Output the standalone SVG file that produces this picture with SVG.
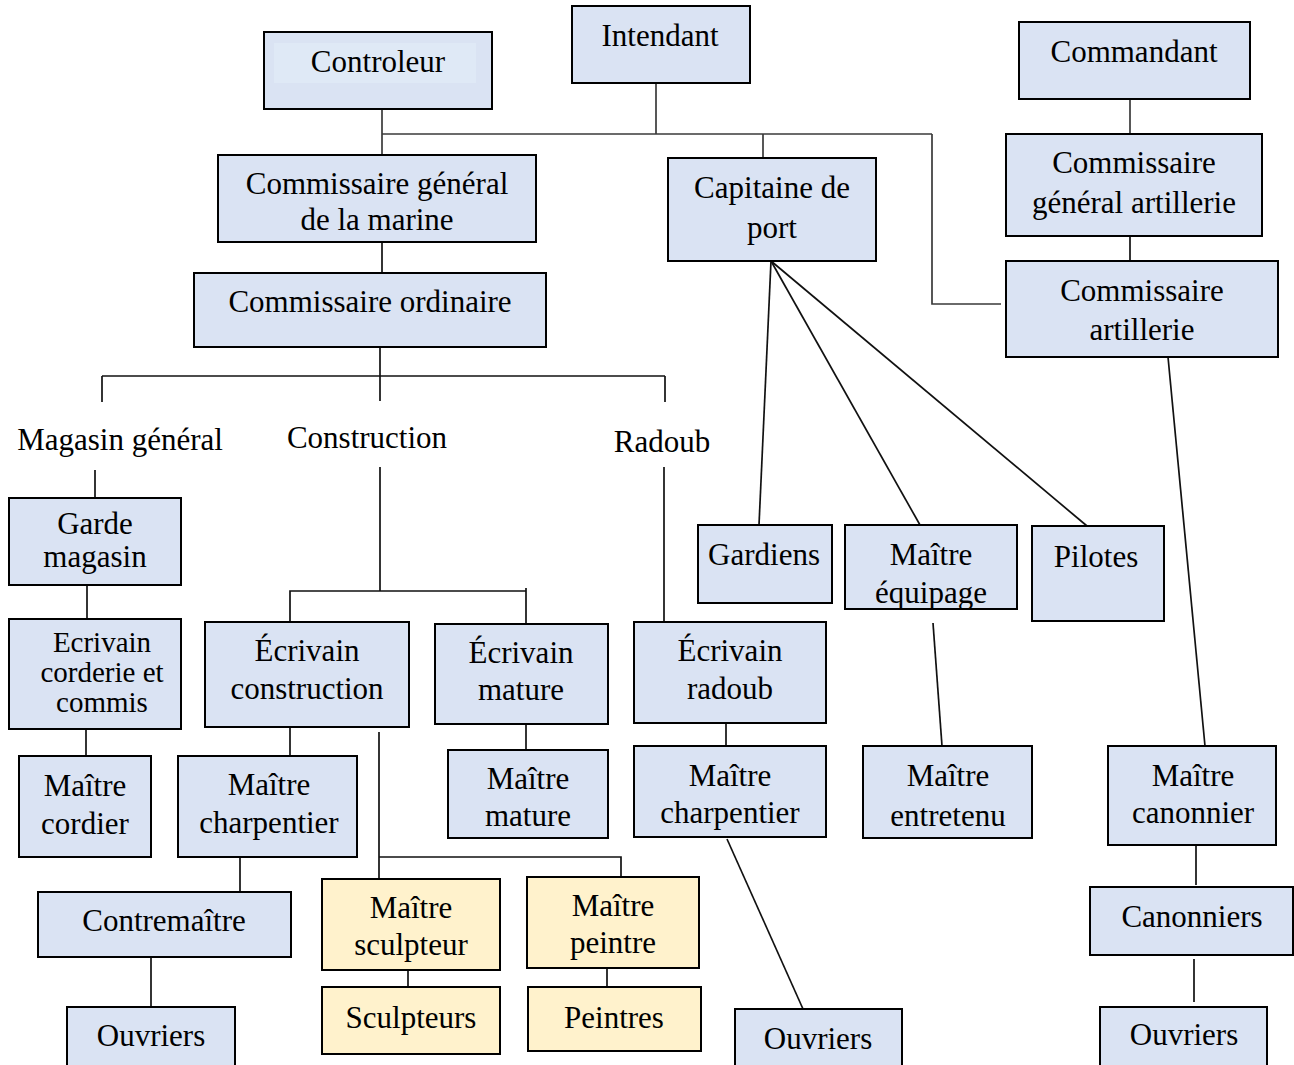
<svg xmlns="http://www.w3.org/2000/svg" width="1294" height="1065" viewBox="0 0 1294 1065" font-family="Liberation Serif, Times New Roman, serif">
  <style>
    .box { fill: #DAE3F3; stroke: #000; stroke-width: 2; }
    .gold { fill: #FFF2CC; stroke: #000; stroke-width: 2; }
    .hl { fill: #DFE9F6; stroke: none; }
    text { font-family: Liberation Serif, Times New Roman, serif; font-size: 31px; fill: #000; text-anchor: middle; }
    .tight { font-size: 29px; }
    .links line, .links polyline { stroke: #111; stroke-width: 1.7; fill: none; }
    .links .top { stroke: #3a3a3a; }
  </style>
  <rect width="1294" height="1065" fill="#FFFFFF"/>

  <!-- connectors -->
  <g id="connectors" class="links">
    <!-- upper hierarchy -->
    <line class="top" x1="382" y1="109" x2="382" y2="155"/>
    <line class="top" x1="656" y1="83" x2="656" y2="134"/>
    <line class="top" x1="382" y1="134" x2="932" y2="134"/>
    <line class="top" x1="763" y1="134" x2="763" y2="158"/>
    <polyline class="top" points="932,134 932,304 1001,304"/>
    <line class="top" x1="1130" y1="99" x2="1130" y2="134"/>
    <line x1="1130" y1="236" x2="1130" y2="261"/>
    <line x1="382" y1="242" x2="382" y2="273"/>
    <!-- departments -->
    <line x1="380" y1="347" x2="380" y2="401"/>
    <line x1="102" y1="376" x2="665" y2="376"/>
    <line x1="102" y1="376" x2="102" y2="402"/>
    <line x1="665" y1="376" x2="665" y2="402"/>
    <line x1="95" y1="470" x2="95" y2="498"/>
    <line x1="380" y1="467" x2="380" y2="591"/>
    <polyline points="290,622 290,591 526,591"/>
    <line x1="526" y1="588" x2="526" y2="624"/>
    <line x1="664" y1="467" x2="664" y2="622"/>
    <!-- magasin branch -->
    <line x1="87" y1="585" x2="87" y2="619"/>
    <line x1="86" y1="729" x2="86" y2="756"/>
    <!-- construction branch -->
    <line x1="290" y1="727" x2="290" y2="756"/>
    <line x1="240" y1="857" x2="240" y2="892"/>
    <line x1="151" y1="957" x2="151" y2="1007"/>
    <line x1="379" y1="732" x2="379" y2="879"/>
    <polyline points="379,857 621,857 621,877"/>
    <line x1="408" y1="970" x2="408" y2="987"/>
    <line x1="607" y1="968" x2="607" y2="987"/>
    <line x1="526" y1="724" x2="526" y2="750"/>
    <!-- radoub branch -->
    <line x1="726" y1="723" x2="726" y2="746"/>
    <line x1="727" y1="839" x2="803" y2="1009"/>
    <!-- capitaine de port -->
    <line x1="771" y1="261" x2="759" y2="525"/>
    <line x1="771" y1="261" x2="920" y2="525"/>
    <line x1="771" y1="261" x2="1087" y2="526"/>
    <line x1="933" y1="623" x2="942" y2="746"/>
    <!-- artillerie -->
    <line x1="1168" y1="357" x2="1205" y2="746"/>
    <line x1="1196" y1="845" x2="1196" y2="885"/>
    <line x1="1194" y1="959" x2="1194" y2="1002"/>
  </g>

  <!-- top level -->
  <g id="controleur">
    <rect class="box" x="264" y="32" width="228" height="77"/>
    <rect class="hl" x="274" y="43" width="202" height="40"/>
    <text x="378" y="72">Controleur</text>
  </g>
  <g id="intendant">
    <rect class="box" x="572" y="6" width="178" height="77"/>
    <text x="660" y="46">Intendant</text>
  </g>
  <g id="commandant">
    <rect class="box" x="1019" y="22" width="231" height="77"/>
    <text x="1134" y="62">Commandant</text>
  </g>

  <g id="commissaire-general-marine">
    <rect class="box" x="218" y="155" width="318" height="87"/>
    <text x="377" y="194">Commissaire général</text>
    <text x="377" y="230">de la marine</text>
  </g>
  <g id="capitaine-de-port">
    <rect class="box" x="668" y="158" width="208" height="103"/>
    <text x="772" y="198">Capitaine de</text>
    <text x="772" y="238">port</text>
  </g>
  <g id="commissaire-general-artillerie">
    <rect class="box" x="1006" y="134" width="256" height="102"/>
    <text x="1134" y="173">Commissaire</text>
    <text x="1134" y="213">général artillerie</text>
  </g>
  <g id="commissaire-artillerie">
    <rect class="box" x="1006" y="261" width="272" height="96"/>
    <text x="1142" y="301">Commissaire</text>
    <text x="1142" y="340">artillerie</text>
  </g>
  <g id="commissaire-ordinaire">
    <rect class="box" x="194" y="273" width="352" height="74"/>
    <text x="370" y="312">Commissaire ordinaire</text>
  </g>

  <!-- department labels -->
  <g id="magasin-general">
    <text x="120" y="450">Magasin général</text>
  </g>
  <g id="construction">
    <text x="367" y="448">Construction</text>
  </g>
  <g id="radoub">
    <text x="662" y="452">Radoub</text>
  </g>

  <!-- magasin général -->
  <g id="garde-magasin">
    <rect class="box" x="9" y="498" width="172" height="87"/>
    <text x="95" y="534">Garde</text>
    <text x="95" y="567">magasin</text>
  </g>
  <g id="ecrivain-corderie">
    <rect class="box" x="9" y="619" width="172" height="110"/>
    <text class="tight" x="102" y="652">Ecrivain</text>
    <text class="tight" x="102" y="682">corderie et</text>
    <text class="tight" x="102" y="712">commis</text>
  </g>
  <g id="maitre-cordier">
    <rect class="box" x="19" y="756" width="132" height="101"/>
    <text x="85" y="796">Maître</text>
    <text x="85" y="834">cordier</text>
  </g>

  <!-- construction -->
  <g id="ecrivain-construction">
    <rect class="box" x="205" y="622" width="204" height="105"/>
    <text x="307" y="661">Écrivain</text>
    <text x="307" y="699">construction</text>
  </g>
  <g id="ecrivain-mature">
    <rect class="box" x="435" y="624" width="173" height="100"/>
    <text x="521" y="663">Écrivain</text>
    <text x="521" y="700">mature</text>
  </g>
  <g id="maitre-mature">
    <rect class="box" x="448" y="750" width="160" height="88"/>
    <text x="528" y="789">Maître</text>
    <text x="528" y="826">mature</text>
  </g>
  <g id="maitre-charpentier-construction">
    <rect class="box" x="178" y="756" width="179" height="101"/>
    <text x="269" y="795">Maître</text>
    <text x="269" y="833">charpentier</text>
  </g>
  <g id="contremaitre">
    <rect class="box" x="38" y="892" width="253" height="65"/>
    <text x="164" y="931">Contremaître</text>
  </g>
  <g id="ouvriers-construction">
    <rect class="box" x="67" y="1007" width="168" height="70"/>
    <text x="151" y="1046">Ouvriers</text>
  </g>
  <g id="maitre-sculpteur">
    <rect class="gold" x="322" y="879" width="178" height="91"/>
    <text x="411" y="918">Maître</text>
    <text x="411" y="955">sculpteur</text>
  </g>
  <g id="sculpteurs">
    <rect class="gold" x="322" y="987" width="178" height="67"/>
    <text x="411" y="1028">Sculpteurs</text>
  </g>
  <g id="maitre-peintre">
    <rect class="gold" x="527" y="877" width="172" height="91"/>
    <text x="613" y="916">Maître</text>
    <text x="613" y="953">peintre</text>
  </g>
  <g id="peintres">
    <rect class="gold" x="528" y="987" width="173" height="64"/>
    <text x="614" y="1028">Peintres</text>
  </g>

  <!-- radoub -->
  <g id="ecrivain-radoub">
    <rect class="box" x="634" y="622" width="192" height="101"/>
    <text x="730" y="661">Écrivain</text>
    <text x="730" y="699">radoub</text>
  </g>
  <g id="maitre-charpentier-radoub">
    <rect class="box" x="634" y="746" width="192" height="91"/>
    <text x="730" y="786">Maître</text>
    <text x="730" y="823">charpentier</text>
  </g>
  <g id="ouvriers-radoub">
    <rect class="box" x="735" y="1009" width="167" height="70"/>
    <text x="818" y="1049">Ouvriers</text>
  </g>

  <!-- port -->
  <g id="gardiens">
    <rect class="box" x="698" y="525" width="134" height="78"/>
    <text x="764" y="565">Gardiens</text>
  </g>
  <g id="maitre-equipage">
    <rect class="box" x="845" y="525" width="172" height="84"/>
    <text x="931" y="565">Maître</text>
    <text x="931" y="603">équipage</text>
  </g>
  <g id="pilotes">
    <rect class="box" x="1032" y="526" width="132" height="95"/>
    <text x="1096" y="567">Pilotes</text>
  </g>
  <g id="maitre-entretenu">
    <rect class="box" x="863" y="746" width="169" height="92"/>
    <text x="948" y="786">Maître</text>
    <text x="948" y="826">entretenu</text>
  </g>

  <!-- artillerie -->
  <g id="maitre-canonnier">
    <rect class="box" x="1108" y="746" width="168" height="99"/>
    <text x="1193" y="786">Maître</text>
    <text x="1193" y="823">canonnier</text>
  </g>
  <g id="canonniers">
    <rect class="box" x="1090" y="887" width="203" height="68"/>
    <text x="1192" y="927">Canonniers</text>
  </g>
  <g id="ouvriers-artillerie">
    <rect class="box" x="1100" y="1007" width="167" height="70"/>
    <text x="1184" y="1045">Ouvriers</text>
  </g>
</svg>
